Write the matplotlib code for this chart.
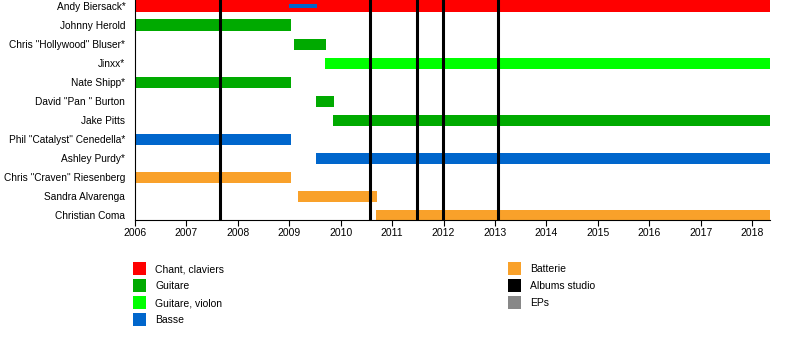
import matplotlib.pyplot as plt
from matplotlib.patches import Rectangle

plt.rcParams['font.family'] = ['Liberation Sans', 'DejaVu Sans']

members = ['Andy Biersack*', 'Johnny Herold', 'Chris "Hollywood" Bluser*', 'Jinxx*',
           'Nate Shipp*', 'David "Pan " Burton', 'Jake Pitts', 'Phil "Catalyst" Cenedella*',
           'Ashley Purdy*', 'Chris "Craven" Riesenberg', 'Sandra Alvarenga', 'Christian Coma']
end = 2018.35
starts = [2006.0, 2006.0, 2009.09, 2009.7, 2006.0, 2009.52, 2009.85, 2006.0, 2009.52, 2006.0, 2009.17, 2010.69]
ends = [end, 2009.03, 2009.71, end, 2009.03, 2009.87, end, 2009.03, end, 2009.03, 2010.7, end]
roles = ['chant', 'guitare', 'guitare', 'violon', 'guitare', 'guitare', 'guitare',
         'basse', 'basse', 'batterie', 'batterie', 'batterie']
# Andy's short stint on bass
extra_start, extra_end = 2009.0, 2009.54
albums = [2007.65, 2010.57, 2011.48, 2011.99, 2013.06]

role_colors = {'chant': '#ff0000', 'guitare': '#00aa00', 'violon': '#00ff00',
               'basse': '#0066cc', 'batterie': '#f9a12a'}
legend_left = [('Chant, claviers', '#ff0000'), ('Guitare', '#00aa00'),
               ('Guitare, violon', '#00ff00'), ('Basse', '#0066cc')]
legend_right = [('Batterie', '#f9a12a'), ('Albums studio', '#000000'), ('EPs', '#888888')]
years = list(range(2006, 2019))

fig = plt.figure(figsize=(8, 3.4), dpi=100)
ax = fig.add_axes([135 / 800, 1 - 220 / 340, (770 - 135) / 800, 220 / 340])

for i, (s, e, r) in enumerate(zip(starts, ends, roles)):
    ax.barh(i, e - s, left=s, height=0.58, color=role_colors[r], zorder=2)
ax.barh(0, extra_end - extra_start, left=extra_start, height=0.16,
        color=role_colors['basse'], zorder=3)

for a in albums:
    ax.axvline(a, color='black', lw=2.2, zorder=4)

ax.set_xlim(2006, end)
ax.set_ylim(11.26, -0.316)
ax.set_yticks(range(len(members)))
ax.set_yticklabels(members, fontsize=7.3)
ax.tick_params(axis='y', length=0, pad=7)
ax.set_xticks(years)
ax.set_xticklabels([str(y) for y in years], fontsize=7.5)
ax.tick_params(axis='x', length=4, width=0.8, pad=2)
for side in ['top', 'right']:
    ax.spines[side].set_visible(False)
ax.spines['left'].set_linewidth(0.8)
ax.spines['bottom'].set_linewidth(0.8)

# legend drawn by hand in two columns
def legend_column(items, x_px, y_px):
    for k, (label, col) in enumerate(items):
        y = y_px + 17 * k
        fig.add_artist(Rectangle((x_px / 800, 1 - (y + 13) / 340), 13 / 800, 13 / 340,
                                 transform=fig.transFigure, color=col, lw=0))
        fig.text(155 / 800 + (x_px - 133) / 800, 1 - (y + 7) / 340, label,
                 fontsize=7.5, va='center', ha='left')

legend_column(legend_left, 133, 262)
legend_column(legend_right, 508, 262)

fig.savefig('out.png', dpi=100)
